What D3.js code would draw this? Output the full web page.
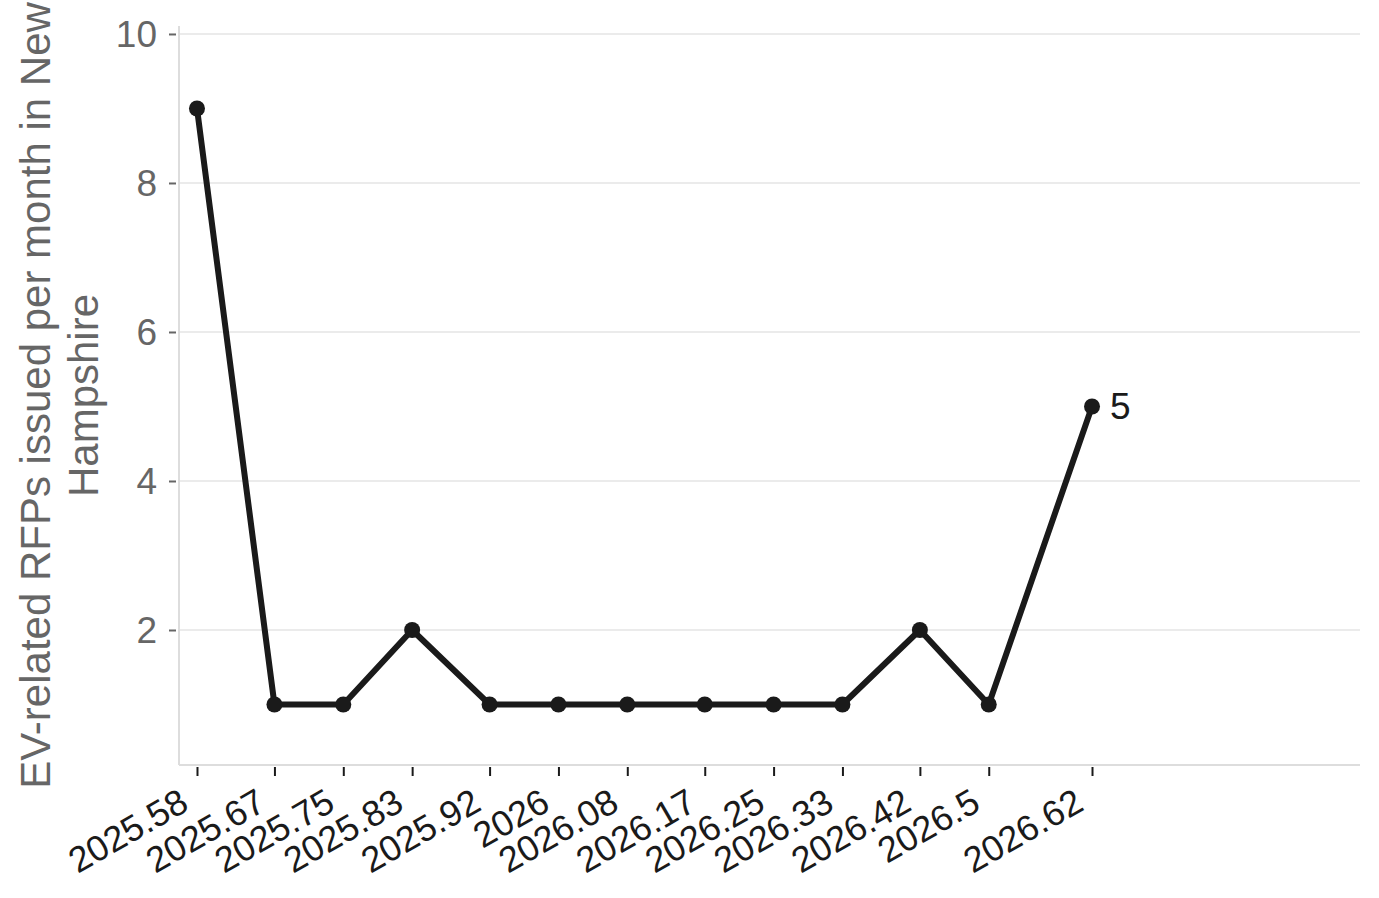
<!DOCTYPE html>
<html>
<head>
<meta charset="utf-8">
<script src="https://cdn.jsdelivr.net/npm/d3@7"></script>
<style>
  html, body { margin: 0; padding: 0; background: #fff; }
  svg { display: block; font-family: "Liberation Sans", Arial, Helvetica, sans-serif; }
</style>
</head>
<body>
<div id="chart"></div>
<script>
// decimal-year months and RFP counts
const months = [2025.58, 2025.67, 2025.75, 2025.83, 2025.92, 2026, 2026.08, 2026.17, 2026.25, 2026.33, 2026.42, 2026.5, 2026.62]
const rfps = [9, 1, 1, 2, 1, 1, 1, 1, 1, 1, 2, 1, 5]
const yTicks = [2, 4, 6, 8, 10]
const yTitle = ["EV-related RFPs issued per month in New", "Hampshire"]

const width = 1379, height = 898
const margin = { top: 26, right: 19, bottom: 133, left: 179 }

const svg = d3.select('#chart')
    .append('svg')
    .attr('width', width)
    .attr('height', height)

const x = d3.scaleLinear()
    .domain([2025.5591, 2026.9314])
    .range([margin.left, width - margin.right])

const y = d3.scaleLinear()
    .domain([0.188, 10.107])
    .range([height - margin.bottom, margin.top])

// gridlines
svg.append("g")
    .selectAll("line")
    .data(yTicks)
    .join("line")
    .attr("x1", margin.left)
    .attr("x2", width - margin.right)
    .attr("y1", d => y(d))
    .attr("y2", d => y(d))
    .attr("stroke", "#ebebeb")
    .attr("stroke-width", 2)

// y axis
function yAxis(g) {
    g.attr("transform", `translate(${margin.left - 3}, 0)`)
        .call(d3.axisLeft(y).tickValues(yTicks).tickSize(7).tickPadding(12).tickFormat(d3.format("d")))
        .call(g => g.select(".domain").remove())
        .call(g => g.selectAll(".tick line").attr("stroke", "#666").attr("stroke-width", 2))
        .call(g => g.selectAll(".tick text").attr("fill", "#666").attr("font-size", "37px").attr("dy", "0.35em"))
}

// x axis
function xAxis(g) {
    g.attr("transform", `translate(0, ${height - margin.bottom + 2})`)
        .call(d3.axisBottom(x).tickValues(months).tickSize(9).tickFormat(d => d3.format("")(d)))
        .call(g => g.select(".domain").remove())
        .call(g => g.selectAll(".tick line").attr("stroke", "#1a1a1a").attr("stroke-width", 2))
        .call(g => g.selectAll(".tick text")
            .attr("fill", "#1a1a1a")
            .attr("font-size", "36px")
            .attr("text-anchor", "end")
            .attr("dy", 0)
            .attr("transform", "translate(-7, 42) rotate(-30)")
            .attr("y", 0)
            .attr("x", 0))
}

svg.append("g").call(yAxis)
svg.append("g").call(xAxis)

// axis frame lines
svg.append("line")
    .attr("x1", margin.left).attr("x2", margin.left)
    .attr("y1", margin.top).attr("y2", height - margin.bottom)
    .attr("stroke", "#dddddd").attr("stroke-width", 2)
svg.append("line")
    .attr("x1", margin.left).attr("x2", width - margin.right)
    .attr("y1", height - margin.bottom).attr("y2", height - margin.bottom)
    .attr("stroke", "#dddddd").attr("stroke-width", 2)

// y title
svg.append("text")
    .attr("transform", `translate(0, ${(margin.top + height - margin.bottom) / 2}) rotate(-90)`)
    .attr("text-anchor", "middle")
    .attr("fill", "#666")
    .attr("font-size", "42px")
    .selectAll("tspan")
    .data(yTitle)
    .join("tspan")
    .attr("x", 0)
    .attr("y", (d, i) => 50 + i * 48)
    .text(d => d)

// line + points
const pts = months.map((m, i) => ({ m, v: rfps[i] }))

svg.append("path")
    .datum(pts)
    .attr("fill", "none")
    .attr("stroke", "#1a1a1a")
    .attr("stroke-width", 6)
    .attr("stroke-linejoin", "round")
    .attr("d", d3.line().x(d => x(d.m)).y(d => y(d.v)))

svg.append("g")
    .attr("fill", "#1a1a1a")
    .selectAll("circle")
    .data(pts)
    .join("circle")
    .attr("cx", d => x(d.m))
    .attr("cy", d => y(d.v))
    .attr("r", 8)

// end label
const last = pts[pts.length - 1]
svg.append("text")
    .attr("x", x(last.m) + 18)
    .attr("y", y(last.v))
    .attr("dy", "0.35em")
    .attr("fill", "#1a1a1a")
    .attr("font-size", "37px")
    .text(last.v)
</script>
</body>
</html>
